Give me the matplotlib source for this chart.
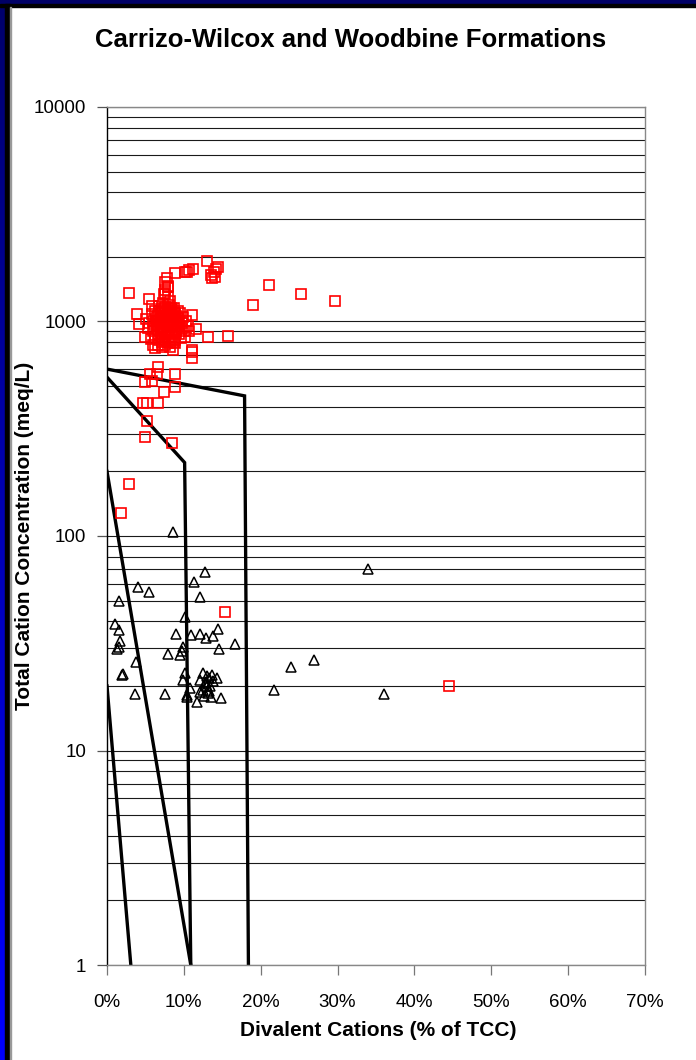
import numpy as np
import matplotlib
matplotlib.use('Agg')
import matplotlib.pyplot as plt
from matplotlib.ticker import FixedLocator, FixedFormatter, LogLocator, NullFormatter
from matplotlib.patches import Rectangle

plt.rcParams['font.family'] = ['Liberation Sans', 'DejaVu Sans']

title = "Carrizo-Wilcox and Woodbine Formations"
xlabel = "Divalent Cations (% of TCC)"
ylabel = "Total Cation Concentration (meq/L)"
x_ticks = [0, 10, 20, 30, 40, 50, 60, 70]
x_tick_labels = ['0%', '10%', '20%', '30%', '40%', '50%', '60%', '70%']
y_ticks = [1, 10, 100, 1000, 10000]
y_tick_labels = ['1', '10', '100', '1000', '10000']

# Red squares (divalent %, meq/L)
sq_x = [13.05, 14.5, 13.5, 13.9, 14.2, 13.7, 14.0, 11.2, 10.7, 10.4, 10.1, 8.9,
        7.8, 7.6, 7.9, 8.0, 7.4, 2.86, 5.5, 21.1, 25.3, 29.7, 19.0, 11.0, 3.9,
        4.1, 11.6, 13.2, 15.7, 11.0, 11.0, 10.7, 4.9, 6.0, 6.2, 11.0,
        6.6, 5.6, 6.5, 8.9, 4.9, 5.8, 8.85, 7.4, 4.7, 5.2, 6.6, 5.2, 4.9, 8.4,
        2.86, 1.78, 15.3, 44.5,
        6.0, 6.5, 7.0, 7.5, 8.0, 8.5, 9.0, 9.5, 7.0, 7.5, 8.0, 8.5, 9.0, 6.5,
        6.0, 6.3, 7.2, 7.8, 8.3, 8.8, 9.3, 9.8, 10.0, 5.5, 5.8, 6.8, 7.3, 8.1,
        8.7, 9.2, 7.6, 8.2, 8.9, 9.6, 6.8, 7.4, 8.4, 7.9, 6.2, 9.9, 10.3, 5.3,
        5.1, 7.1, 8.6, 9.4, 10.2, 6.6, 5.7, 7.7, 8.0, 7.6, 7.5, 8.2, 6.9, 7.3,
        8.6, 9.1, 6.4, 7.9, 7.0, 8.3, 9.5, 8.8, 7.2, 6.1, 9.7, 10.5, 5.9, 6.7,
        6.7, 7.1, 7.6, 8.1, 8.6, 9.1, 6.9, 7.4, 7.9, 8.4, 8.9, 6.6, 7.2, 7.7,
        8.2, 8.7, 9.2, 7.0, 7.5, 8.0, 8.5, 9.0, 6.8, 7.3, 7.8, 8.3, 8.8, 7.1,
        7.6, 8.1, 8.6, 6.9, 7.4, 7.9, 8.4, 9.3, 6.5, 7.0, 7.5, 8.0, 8.5, 9.0,
        7.2, 7.7, 8.2, 8.7, 6.7, 9.4]
sq_y = [1920, 1800, 1650, 1700, 1750, 1600, 1620, 1760, 1730, 1710, 1700, 1680,
        1600, 1520, 1470, 1450, 1340, 1360, 1270, 1485, 1340, 1250, 1190, 1070, 1080,
        970, 920, 845, 856, 723, 673, 906, 845, 777, 750, 737,
        611, 569, 569, 569, 522, 527, 497, 471, 416, 416, 416, 345, 290, 272,
        174, 128, 44, 20,
        1000, 1050, 1100, 1150, 1100, 1050, 1000, 950, 900, 850, 800, 850, 900, 950,
        900, 850, 980, 1020, 970, 1080, 1030, 980, 900, 980, 1080, 1180, 1220, 1200,
        1150, 1120, 780, 760, 790, 840, 820, 940, 910, 880, 1120, 1050, 1000, 930,
        1030, 760, 740, 870, 850, 780, 830, 1060, 1300, 1350, 1400, 1250, 1030, 1050,
        1000, 960, 1010, 950, 1000, 1150, 1100, 820, 870, 960, 920, 950, 1180, 870,
        1000, 1010, 990, 1000, 1020, 990, 940, 930, 960, 950, 940, 1060, 1070, 1050,
        1070, 1060, 1040, 880, 890, 870, 900, 880, 1120, 1110, 1130, 1110, 1100, 830,
        820, 850, 830, 990, 1000, 1010, 1000, 1000, 920, 1140, 1170, 1160, 1140, 1060,
        800, 810, 790, 800, 1000, 1000]

# Black triangles (divalent %, meq/L)
tri_x = [8.6, 34.0, 12.7, 11.3, 4.0, 5.4, 12.1, 1.5, 10.2, 1.04, 1.5, 14.4,
         9.0, 10.9, 12.1, 12.9, 13.8, 1.7, 1.5, 1.3, 16.7, 14.6, 7.9, 9.5, 9.8,
         9.85, 3.8, 23.9, 26.9, 2.0, 2.05, 10.2, 9.85, 14.3, 10.8, 10.4, 10.4,
         11.7, 14.8, 3.6, 7.5, 21.7, 36.0,
         12.1, 12.45, 13.0, 13.3, 12.75, 13.4, 12.5, 13.2, 13.5, 13.8, 12.1, 13.0,
         12.6, 13.3, 12.9, 13.6]
tri_y = [104, 70.4, 67.7, 61, 58, 55, 51.8, 49.6, 41.7, 38.7, 36.5, 36.7,
         34.9, 34.4, 34.9, 33.6, 34.2, 32.4, 30.5, 29.7, 31.4, 29.7, 28.3, 27.9, 29.1,
         30.5, 25.9, 24.6, 26.4, 22.5, 22.7, 22.9, 21.3, 21.8, 19.5, 18.1, 17.7,
         16.8, 17.6, 18.3, 18.3, 19.1, 18.3,
         21.3, 22.9, 22.2, 21.7, 20.6, 19.9, 19.1, 18.5, 17.8, 21.0, 18.7, 20.0,
         18.0, 19.0, 20.9, 22.6]

# Boundary lines
line1_x = [0, 17.9, 18.4]
line1_y = [600, 450, 1]
line2_x = [0, 10.1, 10.9]
line2_y = [550, 220, 1]
line3_x = [0, 10.9]
line3_y = [200, 1]
line4_x = [0, 3.1]
line4_y = [20, 1]

W, H = 696, 1060
fig = plt.figure(figsize=(W / 100, H / 100), dpi=100)
fig.patch.set_facecolor('white')

ax = fig.add_axes([107 / W, 1 - 965 / H, (645 - 107) / W, (965 - 107) / H])
ax.set_yscale('log')
ax.set_xlim(0, 70)
ax.set_ylim(1, 10000)

ax.yaxis.set_major_locator(FixedLocator(y_ticks))
ax.yaxis.set_major_formatter(FixedFormatter(y_tick_labels))
ax.yaxis.set_minor_locator(LogLocator(base=10, subs=np.arange(2, 10)))
ax.yaxis.set_minor_formatter(NullFormatter())
ax.xaxis.set_major_locator(FixedLocator(x_ticks))
ax.xaxis.set_major_formatter(FixedFormatter(x_tick_labels))

ax.grid(True, axis='y', which='both', color='#1a1a1a', lw=0.8, zorder=0)
ax.set_axisbelow(True)
ax.tick_params(axis='y', which='major', direction='out', length=7, width=0.9,
               color='#555555', labelsize=13.5, pad=8)
ax.tick_params(axis='y', which='minor', length=0)
ax.tick_params(axis='x', which='major', direction='out', length=7, width=0.9,
               color='#777777', labelsize=13.5, pad=14)

for s in ['top', 'right', 'bottom']:
    ax.spines[s].set_color('#888888')
    ax.spines[s].set_linewidth(1.0)
ax.spines['left'].set_color('black')
ax.spines['left'].set_linewidth(1.0)

for lx, ly in [(line1_x, line1_y), (line2_x, line2_y), (line3_x, line3_y), (line4_x, line4_y)]:
    ax.plot(lx, ly, color='black', lw=2.4, zorder=2, solid_joinstyle='miter')

ax.plot(sq_x, sq_y, ls='none', marker='s', ms=6.5, mfc='none', mec='#ff0000',
        mew=1.2, zorder=3)
ax.plot(tri_x, tri_y, ls='none', marker='^', ms=7.5, mfc='none', mec='black',
        mew=1.1, zorder=3)

fig.text(351 / W, 1 - 40 / H, title, ha='center', va='center', fontsize=18.5,
         fontweight='bold')
fig.text(378 / W, 1 - 1030 / H, xlabel, ha='center', va='center', fontsize=15,
         fontweight='bold')
fig.text(25 / W, 1 - 536 / H, ylabel, ha='center', va='center', fontsize=15,
         fontweight='bold', rotation=90)

# Frame border
fig.patches.append(Rectangle((0, 1 - 4 / H), 1, 4 / H, transform=fig.transFigure,
                             color='#000066', zorder=10))
fig.patches.append(Rectangle((0, 1 - 7 / H), 1, 3 / H, transform=fig.transFigure,
                             color='black', zorder=10))
fig.patches.append(Rectangle((5 / W, 0), 4.5 / W, 1 - 4 / H, transform=fig.transFigure,
                             color='black', zorder=10))
fig.patches.append(Rectangle((9.5 / W, 0), 1 / W, 1 - 7 / H, transform=fig.transFigure,
                             color='#999999', zorder=10))
gax = fig.add_axes([0, 0, 5 / W, 1])
grad = np.linspace(0, 1, 256).reshape(-1, 1)
cols = np.zeros((256, 1, 3))
cols[:, 0, 2] = 0.42 + 0.58 * grad[:, 0]
gax.imshow(cols, aspect='auto', extent=[0, 1, 0, 1], origin='upper')
gax.set_axis_off()

fig.savefig('out.png', dpi=100)
